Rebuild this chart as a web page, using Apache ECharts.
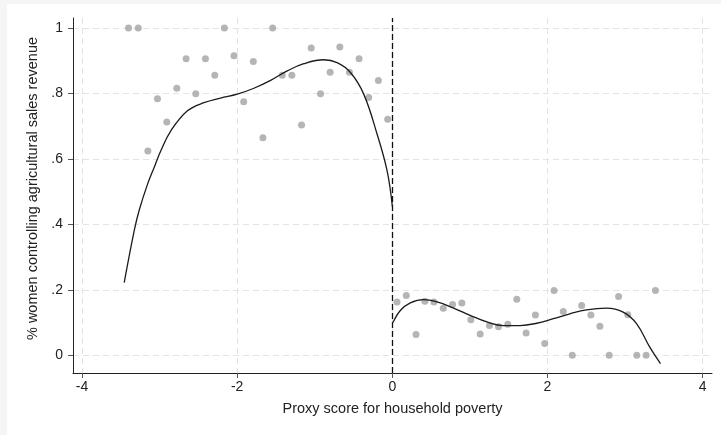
<!DOCTYPE html>
<html>
<head>
<meta charset="utf-8">
<script src="https://cdn.jsdelivr.net/npm/echarts@6/dist/echarts.min.js"></script>
<style>
html,body{margin:0;padding:0;background:#f5f5f5;}
#c{width:721px;height:435px;}
</style>
</head>
<body>
<div id="c"></div>
<script>
// Binned scatter: left of cutoff
const leftX = [-3.400,-3.275,-3.151,-3.027,-2.907,-2.778,-2.658,-2.534,-2.409,-2.289,-2.165,-2.041,-1.916,-1.792,-1.668,-1.543,-1.419,-1.295,-1.170,-1.046,-0.926,-0.802,-0.677,-0.553,-0.429,-0.305,-0.180,-0.060];
const leftY = [1.000,1.000,0.624,0.784,0.713,0.816,0.906,0.799,0.906,0.856,1.000,0.915,0.775,0.898,0.665,1.000,0.856,0.856,0.704,0.939,0.799,0.865,0.942,0.865,0.906,0.788,0.840,0.721];
// Binned scatter: right of cutoff
const rightX = [0.060,0.180,0.305,0.420,0.536,0.656,0.776,0.896,1.012,1.132,1.252,1.368,1.488,1.604,1.724,1.844,1.964,2.084,2.203,2.319,2.440,2.559,2.675,2.795,2.916,3.035,3.151,3.271,3.391];
const rightY = [0.163,0.183,0.064,0.165,0.163,0.144,0.155,0.160,0.109,0.065,0.091,0.087,0.095,0.171,0.068,0.123,0.036,0.198,0.134,0.000,0.152,0.123,0.089,0.000,0.180,0.124,0.000,0.000,0.198];
// Fitted curve, left side
const fitLX = [-3.456,-3.327,-3.262,-3.155,-3.070,-2.984,-2.855,-2.641,-2.427,-2.212,-1.998,-1.784,-1.569,-1.355,-1.141,-0.884,-0.712,-0.540,-0.369,-0.197,-0.068,0.000];
const fitLY = [0.222,0.381,0.444,0.523,0.574,0.625,0.686,0.747,0.772,0.786,0.798,0.816,0.840,0.869,0.891,0.903,0.894,0.864,0.798,0.676,0.564,0.455];
// Fitted curve, right side
const fitRX = [0.008,0.103,0.232,0.403,0.575,0.789,1.003,1.218,1.432,1.646,1.861,2.075,2.289,2.504,2.761,2.975,3.147,3.318,3.456];
const fitRY = [0.100,0.137,0.160,0.170,0.163,0.144,0.122,0.102,0.091,0.091,0.098,0.112,0.127,0.139,0.144,0.132,0.097,0.025,-0.025];
// Ticks
const xTicks = [-4,-2,0,2,4];
const xTickLabels = ['-4','-2','0','2','4'];
const yTicks = [0,0.2,0.4,0.6,0.8,1];
const yTickLabels = ['0','.2','.4','.6','.8','1'];
const cutoff = 0;

const zip = (a,b)=>a.map((v,i)=>[v,b[i]]);
const FONT = 'Liberation Sans, Arial, sans-serif';
const chart = echarts.init(document.getElementById('c'), null, {renderer:'canvas'});
const gridLine = {show:true, lineStyle:{color:'#e4e4e4', width:1, type:[6,4]}};
chart.setOption({
  backgroundColor:'#f5f5f5',
  animation:false,
  graphic:[{type:'rect', z:-100, silent:true, shape:{x:7,y:4,width:714,height:431}, style:{fill:'#ffffff'}}],
  grid:{left:73, right:9, top:18, bottom:62, containLabel:false},
  xAxis:{
    type:'value', min:-4.116, max:4.12,
    name:'Proxy score for household poverty', nameLocation:'middle', nameGap:28,
    nameTextStyle:{fontFamily:FONT, fontSize:14.5, color:'#222'},
    axisLine:{show:true, onZero:false, lineStyle:{color:'#222', width:1}},
    axisTick:{show:true, length:5, customValues:xTicks, lineStyle:{color:'#555'}},
    axisLabel:{customValues:xTicks, fontFamily:FONT, fontSize:14, color:'#222', margin:7,
      formatter:v=>{const i=xTicks.findIndex(t=>Math.abs(t-v)<1e-9);return i>=0?xTickLabels[i]:'';}},
    splitLine:gridLine
  },
  yAxis:{
    type:'value', min:-0.054, max:1.0306,
    name:'% women controlling agricultural sales revenue', nameLocation:'middle', nameGap:32,
    nameTextStyle:{fontFamily:FONT, fontSize:14.5, color:'#222', padding:[0,0,0,14]},
    axisLine:{show:true, onZero:false, lineStyle:{color:'#222', width:1}},
    axisTick:{show:true, length:5, customValues:yTicks, lineStyle:{color:'#555'}},
    axisLabel:{customValues:yTicks, fontFamily:FONT, fontSize:14, color:'#222', margin:10,
      formatter:v=>{const i=yTicks.findIndex(t=>Math.abs(t-v)<1e-9);return i>=0?yTickLabels[i]:'';}},
    splitLine:gridLine
  },
  series:[
    {type:'scatter', data:zip(leftX,leftY), symbolSize:7, itemStyle:{color:'#a3a3a3'}, z:2},
    {type:'scatter', data:zip(rightX,rightY), symbolSize:7, itemStyle:{color:'#a3a3a3'}, z:2},
    {type:'line', data:zip(fitLX,fitLY), smooth:0.4, showSymbol:false, lineStyle:{color:'#1a1a1a', width:1.3}, z:3,
      markLine:{silent:true, symbol:'none', label:{show:false},
        lineStyle:{color:'#111', width:1.3, type:[6,3]}, data:[{xAxis:cutoff}]}},
    {type:'line', data:zip(fitRX,fitRY), smooth:0.4, showSymbol:false, lineStyle:{color:'#1a1a1a', width:1.3}, z:3}
  ]
});
</script>
</body>
</html>
